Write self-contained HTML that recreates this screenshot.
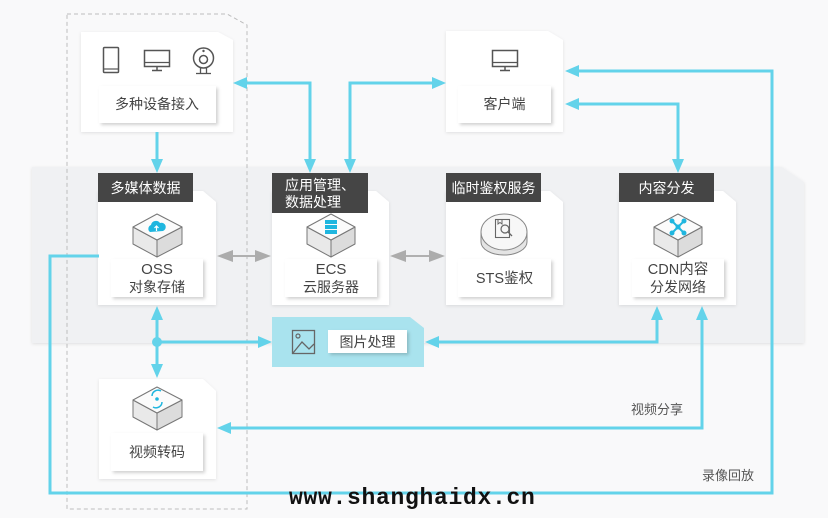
<!DOCTYPE html>
<html><head><meta charset="utf-8">
<style>
html,body{margin:0;padding:0;background:#f9f9fa;}
svg{display:block;}
text{font-family:"Liberation Sans","Noto Sans CJK SC",sans-serif;}
</style></head>
<body>
<svg width="828" height="518" viewBox="0 0 828 518" xmlns="http://www.w3.org/2000/svg">
<defs>
  <filter id="sh" x="-10%" y="-10%" width="130%" height="130%">
    <feDropShadow dx="0" dy="1" stdDeviation="1.5" flood-color="#000" flood-opacity="0.10"/>
  </filter>
  <filter id="lsh" x="-10%" y="-10%" width="130%" height="140%">
    <feDropShadow dx="2" dy="2" stdDeviation="1.5" flood-color="#000" flood-opacity="0.18"/>
  </filter>
</defs>
<rect width="828" height="518" fill="#f9f9fa"/>

<!-- big panel -->
<path d="M32,167 L782,167 L804,182 L804,343 L32,343 Z" fill="#f0f1f3" filter="url(#sh)"/>

<!-- dashed region -->
<path d="M67,14 L227,14 L247,25 L247,509 L67,509 Z" fill="none" stroke="#bdbdbd" stroke-width="1" stroke-dasharray="4,3"/>

<!-- top-left device card -->
<path d="M81,32 L218,32 L233,40 L233,132 L81,132 Z" fill="#fff" filter="url(#sh)"/>
<!-- phone -->
<rect x="103.5" y="47.5" width="15" height="25" rx="1" fill="none" stroke="#555" stroke-width="1.5"/>
<line x1="104" y1="69" x2="118" y2="69" stroke="#555" stroke-width="1.2"/>
<!-- monitor -->
<rect x="144.5" y="50.5" width="25" height="16" fill="none" stroke="#555" stroke-width="1.5"/>
<line x1="145" y1="62.5" x2="169" y2="62.5" stroke="#555" stroke-width="1.2"/>
<line x1="157" y1="67" x2="157" y2="70" stroke="#555" stroke-width="1.5"/>
<line x1="152" y1="70.5" x2="162" y2="70.5" stroke="#555" stroke-width="1.5"/>
<!-- webcam -->
<circle cx="203.5" cy="58" r="10" fill="none" stroke="#555" stroke-width="1.5"/>
<circle cx="203.5" cy="59.5" r="4" fill="none" stroke="#555" stroke-width="1.5"/>
<circle cx="203.5" cy="51" r="1.2" fill="#555"/>
<line x1="200.5" y1="68" x2="200.5" y2="73" stroke="#555" stroke-width="1.3"/>
<line x1="206.5" y1="68" x2="206.5" y2="73" stroke="#555" stroke-width="1.3"/>
<line x1="196" y1="73.5" x2="211" y2="73.5" stroke="#555" stroke-width="1.3"/>
<rect x="99" y="86" width="117" height="37" fill="#fff" filter="url(#lsh)"/>
<text x="157" y="109" font-size="14" fill="#444" text-anchor="middle">多种设备接入</text>

<!-- client card -->
<path d="M446,31 L548,31 L563,40 L563,132 L446,132 Z" fill="#fff" filter="url(#sh)"/>
<rect x="492.5" y="50.5" width="25" height="16" fill="none" stroke="#555" stroke-width="1.5"/>
<line x1="493" y1="62.5" x2="517" y2="62.5" stroke="#555" stroke-width="1.2"/>
<line x1="505" y1="67" x2="505" y2="70" stroke="#555" stroke-width="1.5"/>
<line x1="500" y1="70.5" x2="510" y2="70.5" stroke="#555" stroke-width="1.5"/>
<rect x="458" y="86" width="93" height="37" fill="#fff" filter="url(#lsh)"/>
<text x="504.5" y="109" font-size="14" fill="#444" text-anchor="middle">客户端</text>

<!-- service cards -->
<g filter="url(#sh)">
<path d="M98,191 L203,191 L216,202 L216,305 L98,305 Z" fill="#fff"/>
<path d="M272,191 L376,191 L389,202 L389,305 L272,305 Z" fill="#fff"/>
<path d="M446,191 L550,191 L563,202 L563,305 L446,305 Z" fill="#fff"/>
<path d="M619,191 L723,191 L736,202 L736,305 L619,305 Z" fill="#fff"/>
<path d="M99,379 L203,379 L216,391 L216,479 L99,479 Z" fill="#fff"/>
</g>

<!-- headers -->
<rect x="98" y="173" width="95" height="29" fill="#454545"/>
<text x="145.5" y="193" font-size="14" fill="#fff" text-anchor="middle">多媒体数据</text>
<rect x="272" y="173" width="96" height="40" fill="#454545"/>
<text x="285" y="190" font-size="14" fill="#fff">应用管理、</text>
<text x="285" y="207" font-size="14" fill="#fff">数据处理</text>
<rect x="446" y="173" width="95" height="29" fill="#454545"/>
<text x="493.5" y="193" font-size="14" fill="#fff" text-anchor="middle">临时鉴权服务</text>
<rect x="619" y="173" width="95" height="29" fill="#454545"/>
<text x="666.5" y="193" font-size="14" fill="#fff" text-anchor="middle">内容分发</text>

<!-- hex box icons -->
<g stroke="#777" stroke-width="1" stroke-linejoin="round">
  <!-- OSS -->
  <path d="M133,227 L157,240 L157,257 L133,244 Z" fill="#e9e9e9"/>
  <path d="M182,227 L157,240 L157,257 L182,244 Z" fill="#dcdcdc"/>
  <path d="M157,214 L182,227 L157,240 L133,227 Z" fill="#fbfbfb"/>
  <!-- ECS -->
  <path d="M307,227 L331,240 L331,257 L307,244 Z" fill="#e9e9e9"/>
  <path d="M355,227 L331,240 L331,257 L355,244 Z" fill="#dcdcdc"/>
  <path d="M331,214 L355,227 L331,240 L307,227 Z" fill="#fbfbfb"/>
  <!-- CDN -->
  <path d="M654,227 L678,240 L678,257 L654,244 Z" fill="#e9e9e9"/>
  <path d="M702,227 L678,240 L678,257 L702,244 Z" fill="#dcdcdc"/>
  <path d="M678,214 L702,227 L678,240 L654,227 Z" fill="#fbfbfb"/>
  <!-- Video -->
  <path d="M133,400 L157,413 L157,430 L133,417 Z" fill="#e9e9e9"/>
  <path d="M182,400 L157,413 L157,430 L182,417 Z" fill="#dcdcdc"/>
  <path d="M157,387 L182,400 L157,413 L133,400 Z" fill="#fbfbfb"/>
</g>
<!-- OSS cloud -->
<path d="M150,232 a4,4 0 0 1 1,-7 a5,5 0 0 1 9,-2 a4,4 0 0 1 3,8 Z" fill="#1fb6df"/>
<path d="M156.5,231 L156.5,226 M154.5,228 L156.5,226 L158.5,228" stroke="#fff" stroke-width="1.2" fill="none"/>
<!-- ECS server -->
<rect x="325" y="220" width="12" height="4" fill="#1fb6df"/>
<rect x="325" y="225" width="12" height="4" fill="#1fb6df"/>
<rect x="325" y="230" width="12" height="4" fill="#1fb6df"/>
<!-- CDN network -->
<g stroke="#1fb6df" stroke-width="2">
  <line x1="672" y1="221" x2="684" y2="233"/>
  <line x1="684" y1="221" x2="672" y2="233"/>
</g>
<g fill="#1fb6df">
  <circle cx="672" cy="221" r="2.5"/><circle cx="684" cy="221" r="2.5"/>
  <circle cx="672" cy="233" r="2.5"/><circle cx="684" cy="233" r="2.5"/>
  <circle cx="678" cy="227" r="2.5"/>
</g>
<!-- Video icon -->
<path d="M152,396 a6,6 0 0 1 9,-5" fill="none" stroke="#1fb6df" stroke-width="1.5"/>
<path d="M162,402 a6,6 0 0 1 -9,5" fill="none" stroke="#1fb6df" stroke-width="1.5"/>
<circle cx="157" cy="399" r="1.8" fill="#1fb6df"/>
<!-- STS disk -->
<ellipse cx="504" cy="242" rx="23" ry="13" fill="#e4e4e4" stroke="#888" stroke-width="1"/>
<rect x="481" y="232" width="46" height="10" fill="#e4e4e4"/>
<line x1="481" y1="232" x2="481" y2="242" stroke="#888"/>
<line x1="527" y1="232" x2="527" y2="242" stroke="#888"/>
<ellipse cx="504" cy="232" rx="23" ry="18" fill="#f7f7f7" stroke="#888" stroke-width="1"/>
<rect x="495.5" y="219.5" width="14" height="18" fill="none" stroke="#666" stroke-width="1.1"/>
<circle cx="505" cy="229" r="4" fill="none" stroke="#666" stroke-width="1.2"/>
<line x1="508" y1="232" x2="512" y2="236" stroke="#666" stroke-width="1.3"/>
<path d="M498,219.5 L498,224 L500,222.5 L502,224 L502,219.5" fill="none" stroke="#666" stroke-width="1"/>

<!-- label boxes -->
<g filter="url(#lsh)" fill="#fff">
  <rect x="111" y="259" width="92" height="38"/>
  <rect x="285" y="259" width="92" height="38"/>
  <rect x="458" y="259" width="93" height="38"/>
  <rect x="632" y="259" width="92" height="38"/>
  <rect x="111" y="433" width="92" height="38"/>
</g>
<g font-size="15" fill="#444" text-anchor="middle">
  <text x="157" y="274">OSS</text>
  <text x="157" y="292" font-size="14">对象存储</text>
  <text x="331" y="274">ECS</text>
  <text x="331" y="292" font-size="14">云服务器</text>
  <text x="504.5" y="283" font-size="14.5">STS鉴权</text>
  <text x="678" y="274" font-size="14.5">CDN内容</text>
  <text x="678" y="292" font-size="14">分发网络</text>
  <text x="157" y="457" font-size="14">视频转码</text>
</g>

<!-- image processing panel -->
<path d="M272,317 L410,317 L424,328 L424,367 L272,367 Z" fill="#a9e3ee"/>
<rect x="292.5" y="330.5" width="22" height="23" fill="none" stroke="#666" stroke-width="1.3"/>
<polyline points="293,353 302,342 309,349 314,344" fill="none" stroke="#666" stroke-width="1.3"/>
<circle cx="298" cy="336" r="2" fill="none" stroke="#666" stroke-width="1.2"/>
<rect x="328" y="330" width="79" height="23" fill="#fff" filter="url(#lsh)"/>
<text x="367.5" y="347" font-size="14" fill="#444" text-anchor="middle">图片处理</text>

<!-- gray double arrows -->
<g stroke="#b0b0b0" stroke-width="2">
  <line x1="228" y1="256" x2="260" y2="256"/>
  <line x1="401" y1="256" x2="434" y2="256"/>
</g>
<g fill="#acacac">
  <polygon points="217,256 233,250 233,262"/>
  <polygon points="271,256 255,250 255,262"/>
  <polygon points="390,256 406,250 406,262"/>
  <polygon points="445,256 429,250 429,262"/>
</g>

<!-- cyan connectors -->
<g stroke="#63d3ea" stroke-width="3" fill="none">
  <polyline points="157,132 157,160"/>
  <polyline points="244,83 310,83 310,160"/>
  <polyline points="350,160 350,83 434,83"/>
  <polyline points="578,71 772,71 772,493 50,493 50,256 99,256"/>
  <polyline points="578,104 678,104 678,160"/>
  <polyline points="157,319 157,365"/>
  <polyline points="157,342 260,342"/>
  <polyline points="438,342 657,342 657,319"/>
  <polyline points="228,428 702,428 702,319"/>
</g>
<g fill="#63d3ea">
  <polygon points="157,173 151,159 163,159"/>
  <polygon points="233,83 247,77 247,89"/>
  <polygon points="310,173 304,159 316,159"/>
  <polygon points="350,173 344,159 356,159"/>
  <polygon points="446,83 432,77 432,89"/>
  <polygon points="565,71 579,65 579,77"/>
  <polygon points="565,104 579,98 579,110"/>
  <polygon points="678,173 672,159 684,159"/>
  <polygon points="157,306 151,320 163,320"/>
  <polygon points="157,378 151,364 163,364"/>
  <circle cx="157" cy="342" r="5"/>
  <polygon points="272,342 258,336 258,348"/>
  <polygon points="425,342 439,336 439,348"/>
  <polygon points="657,306 651,320 663,320"/>
  <polygon points="217,428 231,422 231,434"/>
  <polygon points="702,306 696,320 708,320"/>
</g>

<text x="657" y="414" font-size="13" fill="#555" text-anchor="middle">视频分享</text>
<text x="728" y="480" font-size="13" fill="#555" text-anchor="middle">录像回放</text>

<text x="289" y="504" font-size="23" font-weight="bold" fill="#111" letter-spacing="0.7" style="font-family:'Liberation Mono',monospace;">www.shanghaidx.cn</text>
</svg>
</body></html>
